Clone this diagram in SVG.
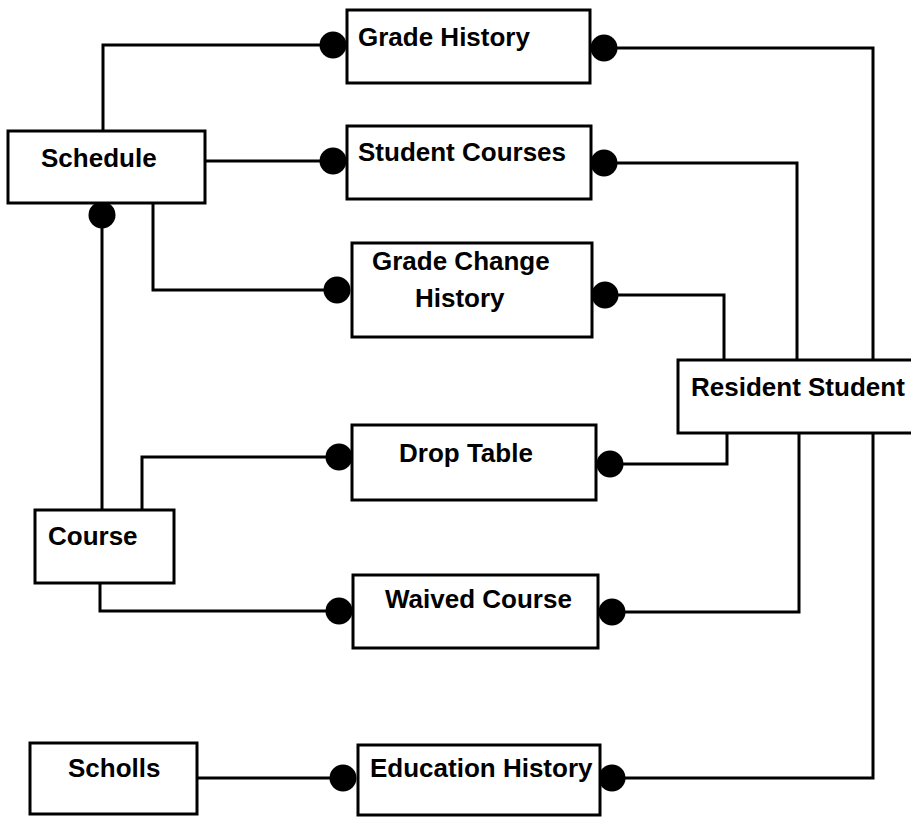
<svg xmlns="http://www.w3.org/2000/svg" width="911" height="817" viewBox="0 0 911 817">
<style>
.box{fill:#fff;stroke:#000;stroke-width:3}
.lbl{font-family:"Liberation Sans",Arial,sans-serif;font-weight:bold;font-size:26px;fill:#000}
.ln{fill:none;stroke:#000;stroke-width:3}
.dot{fill:#000}
</style>
<rect width="911" height="817" fill="#fff"/>
<g id="connectors">
<polyline class="ln" points="103,131 103,45 333,45"/>
<polyline class="ln" points="604,48 873,48 873,360"/>
<polyline class="ln" points="205,161 333,161"/>
<polyline class="ln" points="604,163 797,163 797,360"/>
<polyline class="ln" points="153,203 153,290 337,290"/>
<polyline class="ln" points="605,295 724,295 724,360"/>
<polyline class="ln" points="102,215 102,510"/>
<polyline class="ln" points="727,433 727,464 610,464"/>
<polyline class="ln" points="142,510 142,457 339,457"/>
<polyline class="ln" points="100,583 100,611 339,611"/>
<polyline class="ln" points="612,612 799,612 799,433"/>
<polyline class="ln" points="873,433 873,778 612,778"/>
<polyline class="ln" points="197,778 343,778"/>
<circle class="dot" cx="333" cy="45" r="13.5"/>
<circle class="dot" cx="604" cy="48" r="13.5"/>
<circle class="dot" cx="333" cy="161" r="13.5"/>
<circle class="dot" cx="604" cy="163" r="13.5"/>
<circle class="dot" cx="337" cy="290" r="13.5"/>
<circle class="dot" cx="605" cy="295" r="13.5"/>
<circle class="dot" cx="102" cy="215" r="13.5"/>
<circle class="dot" cx="339" cy="457" r="13.5"/>
<circle class="dot" cx="610" cy="464" r="13.5"/>
<circle class="dot" cx="339" cy="611" r="13.5"/>
<circle class="dot" cx="612" cy="612" r="13.5"/>
<circle class="dot" cx="343" cy="778" r="13.5"/>
<circle class="dot" cx="612" cy="778" r="13.5"/>
</g>
<g id="grade-history">
<rect class="box" x="347" y="10" width="243" height="73"/>
<text class="lbl" x="358" y="46">Grade History</text>
</g>
<g id="schedule">
<rect class="box" x="8" y="131" width="197" height="72"/>
<text class="lbl" x="41" y="167">Schedule</text>
</g>
<g id="student-courses">
<rect class="box" x="347" y="126" width="244" height="73"/>
<text class="lbl" x="358" y="161">Student Courses</text>
</g>
<g id="grade-change-history">
<rect class="box" x="352" y="243" width="240" height="94"/>
<text class="lbl" x="372" y="270">Grade Change</text>
<text class="lbl" x="415" y="307">History</text>
</g>
<g id="resident-student">
<rect class="box" x="678" y="360" width="240" height="73"/>
<text class="lbl" x="691" y="396">Resident Student</text>
</g>
<g id="drop-table">
<rect class="box" x="352" y="425" width="244" height="75"/>
<text class="lbl" x="399" y="462">Drop Table</text>
</g>
<g id="course">
<rect class="box" x="35" y="510" width="139" height="73"/>
<text class="lbl" x="48" y="545">Course</text>
</g>
<g id="waived-course">
<rect class="box" x="353" y="575" width="245" height="73"/>
<text class="lbl" x="385" y="608">Waived Course</text>
</g>
<g id="scholls">
<rect class="box" x="30" y="743" width="167" height="71"/>
<text class="lbl" x="68" y="777">Scholls</text>
</g>
<g id="education-history">
<rect class="box" x="358" y="745" width="242" height="70"/>
<text class="lbl" x="370" y="777">Education History</text>
</g>
</svg>
